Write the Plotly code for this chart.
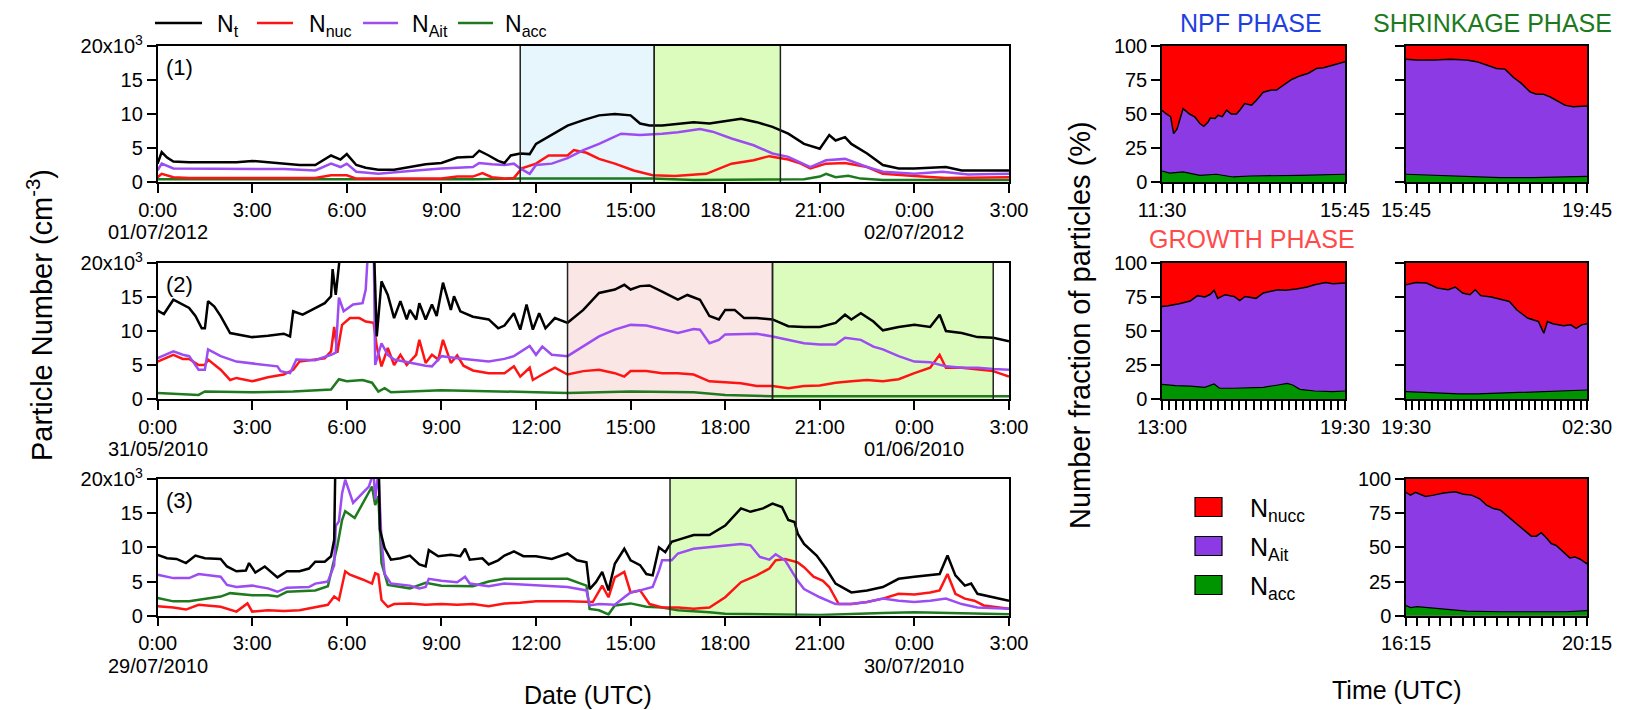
import plotly.graph_objects as go

W, H = 1628, 710

# ---------------- time series (hours since 0:00 of first day, values in 10^3 cm^-3) ----------------
# (1) 01/07/2012
P1_NT_H = [0, 0.13, 0.3, 0.5, 1, 1.5, 2, 2.5, 3, 3.5, 4, 4.5, 5, 5.5, 5.8, 6.0, 6.3, 6.6, 7, 7.5, 8, 8.5, 9, 9.5, 10, 10.2, 10.5, 10.8, 11, 11.2, 11.5, 11.8, 12, 12.5, 13, 13.5, 14, 14.5, 15, 15.3, 15.6, 16, 16.5, 17, 17.5, 18, 18.5, 19, 19.5, 20, 20.5, 21, 21.3, 21.5, 21.8, 22, 22.5, 23, 23.5, 24, 24.5, 25, 25.5, 26, 26.5, 27]
P1_NT = [2.7, 4.4, 3.6, 3.0, 2.9, 2.9, 2.8, 2.9, 3.1, 2.9, 2.8, 2.5, 2.5, 3.9, 3.3, 4.1, 2.5, 2.1, 1.8, 1.8, 2.2, 2.6, 2.8, 3.6, 3.7, 4.6, 3.9, 3.1, 2.8, 3.9, 4.2, 4.1, 5.6, 6.9, 8.3, 9.1, 9.8, 10.0, 9.8, 8.6, 8.3, 8.3, 8.5, 8.8, 8.6, 9.0, 9.3, 8.8, 8.1, 7.1, 5.6, 4.9, 6.9, 6.1, 6.6, 5.6, 4.2, 2.5, 2.0, 2.0, 2.1, 2.2, 1.7, 1.7, 1.8, 1.7]
P1_NUC_H = [0, 0.13, 0.5, 1, 3, 5, 5.5, 6, 6.3, 7, 8, 9, 9.5, 10, 10.3, 10.6, 11, 11.3, 11.55, 12, 12.4, 13, 13.2, 13.6, 14, 14.5, 15.1, 15.7, 16.4, 17.4, 18.2, 18.9, 19.4, 20, 20.4, 20.7, 21.2, 21.8, 22.5, 23, 24, 25, 27]
P1_NUC = [0.7, 1.2, 0.7, 0.6, 0.6, 0.6, 1.0, 1.0, 0.5, 0.5, 0.5, 0.5, 0.8, 0.8, 1.3, 0.7, 0.5, 0.6, 2.0, 2.7, 3.9, 3.9, 4.7, 4.3, 3.4, 2.7, 1.7, 1.0, 0.9, 1.2, 2.7, 3.2, 3.8, 3.3, 2.7, 2.0, 2.7, 2.8, 2.2, 1.2, 0.9, 0.6, 0.7]
P1_AIT_H = [0, 0.13, 0.5, 1, 2, 3, 4, 5, 5.5, 5.8, 6.0, 6.3, 7, 8, 9, 10, 10.2, 10.6, 11, 11.3, 11.5, 11.8, 12, 12.5, 13, 13.5, 14, 14.7, 15.3, 16, 16.5, 17.2, 17.6, 18.2, 18.9, 19.5, 20, 20.7, 21.2, 21.8, 22.5, 23, 24, 24.9, 25.7, 27]
P1_AIT = [1.7, 2.7, 2.0, 2.0, 2.0, 1.9, 1.9, 1.7, 2.7, 2.2, 2.7, 1.5, 1.2, 1.6, 2.0, 2.2, 2.8, 2.6, 2.5, 2.7, 2.0, 1.2, 2.5, 2.7, 3.5, 4.7, 5.6, 7.1, 6.9, 7.1, 7.3, 7.8, 7.4, 6.4, 5.4, 4.2, 3.7, 2.2, 3.2, 3.4, 2.2, 1.5, 1.2, 1.5, 1.1, 1.2]
P1_ACC_H = [0, 2, 4, 6, 8, 10, 11.5, 13, 15, 15.7, 17, 19, 20.5, 21, 21.2, 21.5, 21.9, 22.3, 23, 25, 27]
P1_ACC = [0.4, 0.4, 0.4, 0.4, 0.3, 0.4, 0.5, 0.5, 0.6, 0.5, 0.3, 0.3, 0.4, 0.8, 1.2, 0.7, 0.9, 0.5, 0.3, 0.3, 0.3]

# (2) 31/05/2010
P2_NT_H = [0, 0.2, 0.5, 0.8, 1, 1.2, 1.4, 1.5, 1.6, 1.8, 2, 2.3, 2.5, 3, 3.5, 4, 4.2, 4.3, 4.6, 5, 5.3, 5.5, 5.55, 5.65, 5.75, 5.85, 6.85, 6.95, 7.1, 7.3, 7.5, 7.7, 7.9, 8.0, 8.2, 8.3, 8.5, 8.7, 8.85, 9.05, 9.3, 9.4, 9.6, 10, 10.5, 10.8, 11, 11.3, 11.5, 11.7, 11.9, 12.1, 12.3, 12.6, 13, 13.5, 14, 14.5, 14.8, 15, 15.3, 15.6, 16, 16.5, 16.8, 17.2, 17.5, 17.8, 18, 18.3, 18.6, 19, 19.5, 20, 20.5, 21, 21.5, 21.8, 22, 22.3, 22.7, 23, 23.5, 24, 24.5, 24.8, 25, 25.5, 26, 26.5, 27]
P2_NT = [13.0, 12.5, 14.6, 13.9, 13.4, 12.2, 10.4, 10.4, 14.4, 13.6, 12.2, 9.7, 9.5, 9.1, 9.3, 9.6, 9.2, 12.9, 12.4, 13.4, 14.1, 15.1, 19.1, 15.3, 18.8, 24, 24, 9.2, 17.3, 15.3, 11.9, 14.4, 11.7, 13.1, 11.7, 14.1, 11.7, 13.9, 12.2, 17.1, 13.1, 15.1, 12.9, 12.1, 11.7, 10.4, 10.8, 12.6, 10.2, 13.9, 10.2, 12.6, 10.4, 11.9, 11.2, 13.1, 15.6, 16.1, 16.8, 16.1, 16.6, 16.7, 15.8, 14.6, 15.3, 14.6, 12.2, 11.7, 13.1, 13.1, 11.9, 11.9, 11.7, 10.7, 10.6, 10.6, 11.2, 12.4, 11.7, 12.6, 11.4, 10.1, 10.6, 10.9, 10.6, 12.4, 10.0, 9.7, 9.1, 9.0, 8.5]
P2_NUC_H = [0, 0.5, 0.8, 1, 1.3, 1.5, 1.6, 2, 2.3, 2.5, 3, 3.5, 4, 4.3, 4.5, 5, 5.3, 5.5, 5.6, 5.7, 5.85, 6.1, 6.4, 6.6, 6.85, 6.95, 7.1, 7.3, 7.5, 7.7, 7.9, 8.2, 8.3, 8.5, 8.7, 8.9, 9.05, 9.3, 9.5, 9.7, 10, 10.5, 11, 11.3, 11.5, 11.8, 11.9, 12.2, 12.6, 13, 13.5, 14, 14.5, 14.8, 15, 15.5, 16, 16.5, 17, 17.5, 18, 18.5, 19, 19.5, 20, 20.5, 21, 21.5, 22, 22.5, 23, 23.5, 24, 24.5, 24.8, 25, 25.5, 26, 26.5, 27]
P2_NUC = [5.5, 6.5, 5.9, 5.9, 5.0, 5.0, 5.8, 4.3, 2.8, 3.1, 2.6, 3.2, 3.6, 4.3, 5.5, 5.8, 6.0, 7.0, 10.6, 6.8, 10.9, 11.9, 11.9, 11.4, 11.2, 7.7, 4.8, 7.5, 5.0, 6.5, 5.0, 6.5, 8.7, 5.3, 6.5, 5.8, 8.7, 5.3, 6.4, 4.9, 4.2, 3.8, 3.8, 4.8, 3.3, 4.6, 2.8, 3.6, 4.6, 3.6, 4.1, 4.3, 3.8, 3.3, 4.1, 4.1, 3.8, 3.8, 3.6, 2.6, 2.4, 2.3, 1.9, 1.9, 1.6, 1.9, 2.0, 2.4, 2.6, 2.8, 2.6, 2.9, 3.8, 4.6, 6.5, 4.6, 4.6, 4.3, 4.1, 3.3]
P2_AIT_H = [0, 0.5, 0.8, 1, 1.3, 1.5, 1.6, 2, 2.5, 3, 3.5, 3.8, 3.9, 4.2, 4.4, 5, 5.5, 5.65, 5.75, 5.9, 6.2, 6.5, 6.6, 6.7, 6.85, 6.9, 7.1, 7.3, 7.5, 8, 8.5, 8.7, 9, 9.5, 10, 10.5, 11, 11.3, 11.8, 12, 12.2, 12.5, 13, 13.5, 14, 14.5, 15, 15.5, 16, 16.5, 17, 17.2, 17.5, 17.8, 18, 18.5, 19, 19.5, 20, 20.5, 21, 21.5, 21.8, 22.3, 22.7, 23, 23.5, 24, 24.5, 25, 25.5, 26, 26.5, 27]
P2_AIT = [6.0, 7.0, 6.5, 6.3, 4.3, 4.3, 7.3, 6.3, 5.5, 5.2, 5.0, 4.8, 4.1, 3.8, 5.8, 5.7, 6.5, 6.8, 14.9, 12.9, 13.9, 14.1, 16.1, 24, 24, 5.0, 8.2, 6.5, 5.8, 5.3, 4.9, 4.8, 6.3, 6.0, 5.8, 5.5, 5.9, 6.3, 7.8, 6.5, 7.7, 6.5, 6.3, 7.7, 9.2, 10.2, 10.9, 10.8, 10.2, 9.7, 10.3, 10.2, 8.2, 8.7, 9.5, 9.5, 9.6, 9.2, 8.7, 8.2, 8.0, 8.0, 9.0, 8.7, 7.7, 7.3, 6.3, 5.5, 5.4, 4.8, 4.6, 4.6, 4.4, 4.3]
P2_ACC_H = [0, 1.3, 1.5, 3, 4.3, 5.5, 5.75, 6, 6.5, 6.8, 7.0, 7.2, 7.4, 9, 12, 13, 15, 17, 18, 19.5, 22, 27]
P2_ACC = [0.9, 0.6, 1.1, 1.0, 1.1, 1.4, 2.9, 2.6, 2.8, 2.4, 1.1, 1.6, 1.0, 1.3, 1.0, 0.9, 1.1, 1.0, 0.6, 0.4, 0.4, 0.4]

# (3) 29/07/2010
P3_NT_H = [0, 0.3, 0.6, 0.9, 1.2, 1.5, 2, 2.2, 2.5, 2.8, 2.9, 3.1, 3.4, 3.7, 3.8, 4.1, 4.5, 4.8, 5, 5.3, 5.5, 5.6, 5.65, 7.0, 7.05, 7.2, 7.4, 7.7, 8, 8.3, 8.5, 8.6, 8.9, 9.3, 9.6, 9.75, 9.9, 10.3, 10.5, 10.8, 11, 11.3, 11.6, 12, 12.5, 13, 13.3, 13.6, 13.7, 13.9, 14.1, 14.3, 14.5, 14.8, 15, 15.3, 15.5, 15.7, 15.9, 16.1, 16.3, 16.5, 17, 17.5, 18, 18.5, 18.8, 19.2, 19.5, 19.8, 20, 20.2, 20.3, 20.5, 20.7, 20.9, 21.2, 21.5, 22, 22.5, 23, 23.5, 24, 24.5, 24.8, 25.05, 25.3, 25.6, 25.8, 26, 26.5, 27]
P3_NT = [8.9, 8.4, 8.3, 7.7, 8.8, 8.4, 8.3, 7.2, 6.5, 6.6, 7.7, 6.3, 7.2, 6.1, 5.6, 6.5, 6.5, 6.9, 7.9, 7.9, 8.7, 11.1, 26, 26, 12.6, 9.9, 8.2, 8.4, 8.8, 7.5, 7.2, 9.6, 8.7, 8.9, 8.7, 9.8, 8.2, 8.4, 7.5, 8.1, 8.8, 9.4, 8.7, 8.7, 8.3, 9.1, 8.1, 7.8, 3.9, 4.9, 6.4, 3.7, 7.6, 9.8, 8.1, 7.4, 6.1, 5.9, 10.0, 9.3, 10.8, 11.1, 11.8, 11.8, 13.2, 15.7, 15.2, 15.7, 16.4, 15.9, 14.0, 13.7, 12.0, 10.5, 9.6, 8.8, 6.9, 4.7, 3.4, 3.7, 4.2, 5.4, 5.7, 5.9, 6.1, 8.8, 5.9, 4.4, 4.7, 3.2, 2.7, 2.2]
P3_NUC_H = [0, 0.5, 0.9, 1.3, 2, 2.5, 2.85, 3.0, 3.5, 4, 4.5, 5, 5.4, 5.6, 5.75, 5.95, 6.1, 6.5, 6.8, 6.9, 7.0, 7.1, 7.3, 7.5, 8, 8.5, 9, 9.5, 10, 10.5, 11, 11.5, 12, 13, 13.8, 14.1, 14.3, 14.5, 14.8, 15, 15.3, 15.6, 16, 16.5, 17, 17.5, 18, 18.5, 19, 19.4, 19.6, 19.9, 20.3, 20.5, 20.8, 21.1, 21.3, 21.6, 22, 22.5, 23, 23.5, 24, 24.5, 24.8, 25.05, 25.3, 25.6, 25.9, 26.2, 27]
P3_NUC = [1.4, 1.2, 0.9, 1.6, 1.3, 0.6, 1.8, 0.6, 0.8, 0.7, 0.8, 1.3, 1.6, 2.8, 2.3, 6.5, 6.0, 5.3, 4.7, 6.2, 6.0, 2.3, 1.3, 1.7, 1.8, 1.6, 1.7, 1.6, 1.7, 1.4, 1.8, 1.9, 2.1, 2.1, 2.0, 4.4, 2.7, 5.6, 6.4, 3.4, 3.7, 1.7, 1.2, 1.2, 1.0, 1.2, 2.7, 4.9, 5.9, 6.9, 8.1, 8.3, 7.8, 7.1, 5.7, 5.1, 4.2, 1.7, 1.7, 2.0, 2.5, 3.2, 3.1, 3.4, 3.7, 6.1, 3.2, 2.5, 2.2, 1.5, 1.0]
P3_AIT_H = [0, 0.5, 1, 1.3, 2, 2.2, 2.5, 3, 3.5, 3.8, 4.1, 4.8, 5, 5.4, 5.6, 5.65, 5.75, 5.85, 5.95, 6.2, 6.7, 6.85, 6.9, 7.0, 7.1, 7.2, 7.4, 8, 8.3, 8.5, 8.6, 9, 9.5, 9.75, 9.9, 10.5, 11, 12, 13, 13.6, 13.7, 14, 14.5, 14.8, 15, 15.3, 15.7, 15.9, 16, 16.3, 16.5, 17, 17.5, 18, 18.5, 18.8, 19.1, 19.4, 19.6, 19.9, 20.1, 20.3, 20.5, 21, 21.5, 22, 22.5, 23, 23.5, 24, 24.5, 25, 25.5, 26, 27]
P3_AIT = [6.0, 5.5, 5.5, 6.1, 5.7, 4.5, 4.2, 4.4, 4.0, 3.5, 4.1, 4.2, 4.7, 5.0, 7.4, 13.1, 13.8, 17.9, 19.9, 16.5, 18.9, 21, 17.0, 21, 11.1, 6.1, 4.7, 4.4, 4.0, 4.2, 5.4, 5.1, 4.9, 5.7, 4.7, 4.3, 4.7, 4.4, 4.2, 3.7, 1.5, 1.7, 1.6, 2.7, 3.4, 3.7, 4.2, 6.6, 8.1, 8.1, 9.1, 9.8, 10.0, 10.3, 10.5, 10.3, 8.6, 8.2, 9.0, 8.1, 6.6, 5.1, 3.9, 2.7, 1.7, 1.7, 2.0, 2.5, 2.2, 2.0, 2.2, 2.5, 1.7, 1.2, 1.0]
P3_ACC_H = [0, 0.5, 1, 1.5, 2, 2.3, 3, 3.5, 3.8, 4.1, 5, 5.4, 5.6, 5.7, 5.85, 5.95, 6.25, 6.8, 6.9, 7.0, 7.1, 7.3, 8, 8.5, 9, 10, 10.5, 11, 12, 13, 13.6, 13.7, 14, 14.3, 14.5, 15, 15.5, 16, 16.5, 17, 17.5, 18, 20, 21, 23, 24, 27]
P3_ACC = [2.6, 2.1, 2.1, 2.4, 2.8, 3.3, 3.0, 3.0, 2.8, 3.5, 3.7, 4.3, 8.2, 10.2, 14.0, 15.3, 14.3, 18.9, 16.2, 17.5, 7.7, 4.5, 4.0, 4.8, 4.4, 4.3, 5.0, 5.4, 5.4, 5.4, 4.4, 1.0, 0.8, 0.2, 1.5, 1.8, 1.3, 1.2, 0.8, 0.7, 0.5, 0.3, 0.2, 0.1, 0.4, 0.5, 0.2]

# Phase windows (start hour, end hour, kind)
P1_PHASES = [(11.5, 15.75, "npf"), (15.75, 19.75, "shrink")]
P2_PHASES = [(13.0, 19.5, "growth"), (19.5, 26.5, "shrink")]
P3_PHASES = [(16.25, 20.25, "shrink")]

DATES = [("01/07/2012", "02/07/2012"), ("31/05/2010", "01/06/2010"), ("29/07/2010", "30/07/2010")]
HOUR_TICKS = [0, 3, 6, 9, 12, 15, 18, 21, 24, 27]
HOUR_LABELS = ["0:00", "3:00", "6:00", "9:00", "12:00", "15:00", "18:00", "21:00", "0:00", "3:00"]

# ---------------- number fractions (%) ----------------
# cumulative N_acc + N_Ait, and N_acc alone; remainder up to 100 % is N_nucc
A_CUM_H = [11.5, 11.6, 11.7, 11.77, 11.85, 11.99, 12.14, 12.26, 12.38, 12.47, 12.57, 12.62, 12.73, 12.80, 12.90, 13.0, 13.11, 13.23, 13.31, 13.42, 13.58, 13.69, 13.85, 14.04, 14.16, 14.32, 14.51, 14.70, 14.90, 15.09, 15.25, 15.48, 15.75]
A_CUM = [52.8, 50, 48, 35.6, 39, 54, 50, 48, 43, 41, 44, 47, 46.7, 49, 48, 52.8, 50, 50, 53, 57.7, 56.5, 60, 66, 67.6, 67.6, 71, 75.4, 78, 80, 83.5, 84, 86, 88.5]
A_ACC_H = [11.5, 11.68, 11.99, 12.38, 12.76, 13.15, 13.54, 13.93, 14.70, 15.75]
A_ACC = [8.1, 6.6, 7.4, 4.9, 5.7, 3.7, 4.4, 4.4, 4.9, 5.7]

B_CUM_H = [15.75, 15.99, 16.36, 16.73, 17.09, 17.31, 17.53, 17.75, 17.94, 18.12, 18.30, 18.49, 18.63, 18.78, 18.93, 19.07, 19.26, 19.44, 19.75]
B_CUM = [90.2, 89.7, 89.7, 90.2, 89.7, 88.5, 86, 83.5, 83, 77, 72.5, 66.3, 64.6, 64.6, 62.7, 60.2, 56.5, 55.3, 55.8]
B_ACC_H = [15.75, 16.36, 17.09, 17.83, 18.56, 19.75]
B_ACC = [5.7, 4.9, 4.4, 3.2, 3.2, 4.2]

C_CUM_H = [13.0, 13.22, 13.61, 14.0, 14.26, 14.52, 14.72, 14.85, 14.98, 15.24, 15.56, 15.76, 15.95, 16.34, 16.60, 16.86, 17.12, 17.38, 17.77, 18.16, 18.42, 18.81, 19.07, 19.5]
C_CUM = [68, 68.5, 70, 72, 76, 75, 77, 80, 74, 76.7, 75.4, 72.3, 75.4, 74, 78, 79, 80.3, 80, 80.8, 82.3, 84, 85.7, 84.8, 85.3]
C_ACC_H = [13.0, 13.48, 14.0, 14.52, 14.85, 15.04, 15.56, 16.08, 16.60, 17.12, 17.45, 17.64, 17.90, 18.42, 19.07, 19.5]
C_ACC = [10.8, 9.8, 9.5, 8.6, 11, 7.9, 7.9, 8.4, 8.6, 10.3, 11.5, 10.3, 7.1, 5.9, 5.4, 5.9]

D_CUM_H = [19.5, 19.88, 20.29, 20.71, 21.13, 21.41, 21.69, 21.97, 22.18, 22.39, 22.80, 23.22, 23.50, 23.78, 24.20, 24.62, 24.83, 24.97, 25.18, 25.59, 25.87, 26.08, 26.29, 26.5]
D_CUM = [84, 85.7, 85.3, 81.6, 80.3, 82.3, 77.9, 76.7, 80.3, 76, 75, 73, 71.7, 65.6, 59.5, 57, 48.4, 57, 55.3, 53.8, 54.5, 52, 54.5, 55.3]
D_ACC_H = [19.5, 20.16, 20.85, 21.55, 22.25, 22.94, 23.64, 24.34, 25.04, 25.73, 26.5]
D_ACC = [5.4, 4.9, 4.2, 3.7, 3.7, 4.2, 4.7, 4.9, 5.4, 6.1, 6.6]

E_CUM_H = [16.25, 16.35, 16.46, 16.68, 16.86, 17.08, 17.34, 17.52, 17.70, 17.89, 18.03, 18.18, 18.33, 18.47, 18.62, 18.77, 18.91, 19.02, 19.13, 19.24, 19.35, 19.46, 19.57, 19.72, 19.87, 19.98, 20.09, 20.25]
E_CUM = [90.2, 88.2, 90.2, 87.2, 88.2, 89.7, 90.7, 88.9, 88.2, 85.3, 80.8, 78.4, 77.4, 73.5, 69.3, 65.6, 61.2, 58.2, 58.2, 60.7, 57, 52.8, 51.4, 47.2, 42.3, 43, 41.5, 38]
E_ACC_H = [16.25, 16.35, 16.49, 16.86, 17.23, 17.59, 18.33, 19.06, 19.79, 20.25]
E_ACC = [7.4, 5.9, 6.6, 5.4, 4.2, 3.4, 2.9, 2.9, 2.9, 3.7]

FRACTION_PANELS = [
    # (cum hours, cum, acc hours, acc, start label, end label)
    (A_CUM_H, A_CUM, A_ACC_H, A_ACC, "11:30", "15:45"),
    (B_CUM_H, B_CUM, B_ACC_H, B_ACC, "15:45", "19:45"),
    (C_CUM_H, C_CUM, C_ACC_H, C_ACC, "13:00", "19:30"),
    (D_CUM_H, D_CUM, D_ACC_H, D_ACC, "19:30", "02:30"),
    (E_CUM_H, E_CUM, E_ACC_H, E_ACC, "16:15", "20:15"),
]
TOTAL_PCT = 100

# ---------------- styling ----------------
FONT = "Liberation Sans, Arial, sans-serif"
C_T, C_NUC, C_AIT, C_ACC = "#000000", "#ff1414", "#9b4cf2", "#1f7a1f"
F_NUC, F_AIT, F_ACC = "#ff0000", "#8c3ae4", "#009400"
SHADE = {"npf": "#e7f5fd", "shrink": "#dcfcbd", "growth": "#fbe6e6"}


def px(x):
    return x / W


def py(y):
    return 1 - y / H


LEFT_X = (157.6, 1009.0)
ROWS_Y = [(46, 182), (263, 399), (479, 615.7)]
COL_A = (1162, 1345)
COL_B = (1406, 1587)

fig = go.Figure()
layout = dict(
    template="none",
    width=W, height=H, margin=dict(l=0, r=0, t=0, b=0, pad=0), autosize=False,
    paper_bgcolor="white", plot_bgcolor="white", showlegend=False,
    font=dict(family=FONT, size=20, color="black"),
)


def axis_style(**kw):
    d = dict(showline=True, linecolor="black", linewidth=1.5, mirror=True,
             ticks="outside", ticklen=9, tickwidth=1.5, tickcolor="black",
             showgrid=False, zeroline=False, automargin=False,
             tickfont=dict(family=FONT, size=20, color="black"))
    d.update(kw)
    return d


shapes = []
annotations = []

panels = [
    (P1_NT_H, P1_NT, P1_NUC_H, P1_NUC, P1_AIT_H, P1_AIT, P1_ACC_H, P1_ACC, P1_PHASES),
    (P2_NT_H, P2_NT, P2_NUC_H, P2_NUC, P2_AIT_H, P2_AIT, P2_ACC_H, P2_ACC, P2_PHASES),
    (P3_NT_H, P3_NT, P3_NUC_H, P3_NUC, P3_AIT_H, P3_AIT, P3_ACC_H, P3_ACC, P3_PHASES),
]

for i, (th, tv, nh, nv, ah, av, ch, cv, phases) in enumerate(panels):
    n = i + 1
    xa, ya = ("x" if n == 1 else f"x{n}"), ("y" if n == 1 else f"y{n}")
    y0, y1 = ROWS_Y[i]
    layout["xaxis" if n == 1 else f"xaxis{n}"] = axis_style(
        domain=[px(LEFT_X[0]), px(LEFT_X[1])], anchor=ya, range=[0, 27],
        tickvals=HOUR_TICKS, ticktext=HOUR_LABELS)
    layout["yaxis" if n == 1 else f"yaxis{n}"] = axis_style(
        domain=[py(y1), py(y0)], anchor=xa, range=[0, 20],
        tickvals=[0, 5, 10, 15, 20], ticktext=["0", "5", "10", "15", "20x10<sup>3</sup>"])

    for (s, e, kind) in phases:
        shapes.append(dict(type="rect", xref=xa, yref=f"{ya} domain", x0=s, x1=e, y0=0, y1=1,
                           fillcolor=SHADE[kind], line=dict(width=0), layer="below"))
        for xv in (s, e):
            shapes.append(dict(type="line", xref=xa, yref=f"{ya} domain", x0=xv, x1=xv, y0=0, y1=1,
                               line=dict(color="#222222", width=1.5), layer="above"))

    for hx, hv, col in ((ch, cv, C_ACC), (nh, nv, C_NUC), (ah, av, C_AIT), (th, tv, C_T)):
        fig.add_trace(go.Scatter(x=hx, y=hv, mode="lines", xaxis=xa, yaxis=ya,
                                 line=dict(color=col, width=2.5), hoverinfo="skip"))

    annotations.append(dict(text=f"({n})", xref=f"{xa} domain", yref=f"{ya} domain",
                            x=0.008, y=0.845, xanchor="left", yanchor="middle", showarrow=False,
                            font=dict(size=22, family=FONT, color="black")))
    date_y = y1 + 50
    for hour, txt in zip((0, 24), DATES[i]):
        annotations.append(dict(text=txt, xref=xa, yref="paper", x=hour, y=py(date_y),
                                xanchor="center", yanchor="middle", showarrow=False,
                                font=dict(size=20, family=FONT, color="black")))

# fraction panels: A (row1,colA) B (row1,colB) C (row2,colA) D (row2,colB) E (row3,colB)
places = [(0, COL_A, True), (0, COL_B, False), (1, COL_A, True), (1, COL_B, False), (2, COL_B, True)]
for k, ((cum_h, cum, acc_h, acc, lab0, lab1), (row, col, ylabels)) in enumerate(zip(FRACTION_PANELS, places)):
    n = 4 + k
    xa, ya = f"x{n}", f"y{n}"
    t0, t1 = cum_h[0], cum_h[-1]
    y0, y1 = ROWS_Y[row]
    layout[f"xaxis{n}"] = axis_style(
        domain=[px(col[0]), px(col[1])], anchor=ya, range=[t0, t1],
        tickvals=[t0, t1], ticktext=[lab0, lab1],
        minor=dict(tick0=t0, dtick=0.25, ticks="outside", ticklen=9, tickwidth=1.5,
                   tickcolor="black", showgrid=False))
    layout[f"yaxis{n}"] = axis_style(domain=[py(y1), py(y0)], anchor=xa, range=[0, 100],
                                     tickvals=[0, 25, 50, 75, 100], showticklabels=ylabels)
    fig.add_trace(go.Scatter(x=[t0, t1], y=[TOTAL_PCT, TOTAL_PCT], xaxis=xa, yaxis=ya, mode="lines",
                             fill="tozeroy", fillcolor=F_NUC, line=dict(width=0), hoverinfo="skip"))
    fig.add_trace(go.Scatter(x=cum_h, y=cum, xaxis=xa, yaxis=ya, mode="lines",
                             fill="tozeroy", fillcolor=F_AIT, line=dict(color="black", width=1.5),
                             hoverinfo="skip"))
    fig.add_trace(go.Scatter(x=acc_h, y=acc, xaxis=xa, yaxis=ya, mode="lines",
                             fill="tozeroy", fillcolor=F_ACC, line=dict(color="black", width=1.2),
                             hoverinfo="skip"))

# line legend (top)
legend_items = [("N<sub>t</sub>", C_T, 155, 202, 215), ("N<sub>nuc</sub>", C_NUC, 257, 293, 307),
                ("N<sub>Ait</sub>", C_AIT, 363, 398, 410), ("N<sub>acc</sub>", C_ACC, 458, 493, 503)]
for txt, col, xa0, xa1, xt in legend_items:
    shapes.append(dict(type="line", xref="paper", yref="paper", x0=px(xa0), x1=px(xa1),
                       y0=py(23), y1=py(23), line=dict(color=col, width=2.5)))
    annotations.append(dict(text=txt, xref="paper", yref="paper", x=px(xt), y=py(26),
                            xanchor="left", yanchor="middle", showarrow=False,
                            font=dict(size=23, family=FONT, color="black")))

# area legend (bottom right)
for txt, col, yc in (("N<sub>nucc</sub>", F_NUC, 507), ("N<sub>Ait</sub>", F_AIT, 546), ("N<sub>acc</sub>", F_ACC, 585)):
    shapes.append(dict(type="rect", xref="paper", yref="paper", x0=px(1195), x1=px(1222),
                       y0=py(yc + 9.5), y1=py(yc - 9.5), fillcolor=col, line=dict(color="black", width=1.2)))
    annotations.append(dict(text=txt, xref="paper", yref="paper", x=px(1248), y=py(yc + 3),
                            xanchor="left", yanchor="middle", showarrow=False,
                            font=dict(size=25, family=FONT, color="black")))

# phase titles
for txt, col, xc, yc in (("NPF PHASE", "#1f3fe0", 1251, 23), ("SHRINKAGE PHASE", "#1c7a1c", 1492, 23),
                         ("GROWTH PHASE", "#ff4a4a", 1252, 239)):
    annotations.append(dict(text=txt, xref="paper", yref="paper", x=px(xc), y=py(yc),
                            xanchor="center", yanchor="middle", showarrow=False,
                            font=dict(size=25, family=FONT, color=col)))

# axis titles
annotations += [
    dict(text="Date (UTC)", xref="paper", yref="paper", x=px(588), y=py(695), xanchor="center",
         yanchor="middle", showarrow=False, font=dict(size=25, family=FONT, color="black")),
    dict(text="Time (UTC)", xref="paper", yref="paper", x=px(1397), y=py(690), xanchor="center",
         yanchor="middle", showarrow=False, font=dict(size=25, family=FONT, color="black")),
    dict(text="Particle Number (cm<sup>-3</sup>)", xref="paper", yref="paper", x=px(40), y=py(315),
         xanchor="center", yanchor="middle", textangle=-90, showarrow=False,
         font=dict(size=29, family=FONT, color="black")),
    dict(text="Number fraction of particles (%)", xref="paper", yref="paper", x=px(1080), y=py(325),
         xanchor="center", yanchor="middle", textangle=-90, showarrow=False,
         font=dict(size=29, family=FONT, color="black")),
]

layout["shapes"] = shapes
layout["annotations"] = annotations
fig.update_layout(**layout)
fig.write_html("out.html")
